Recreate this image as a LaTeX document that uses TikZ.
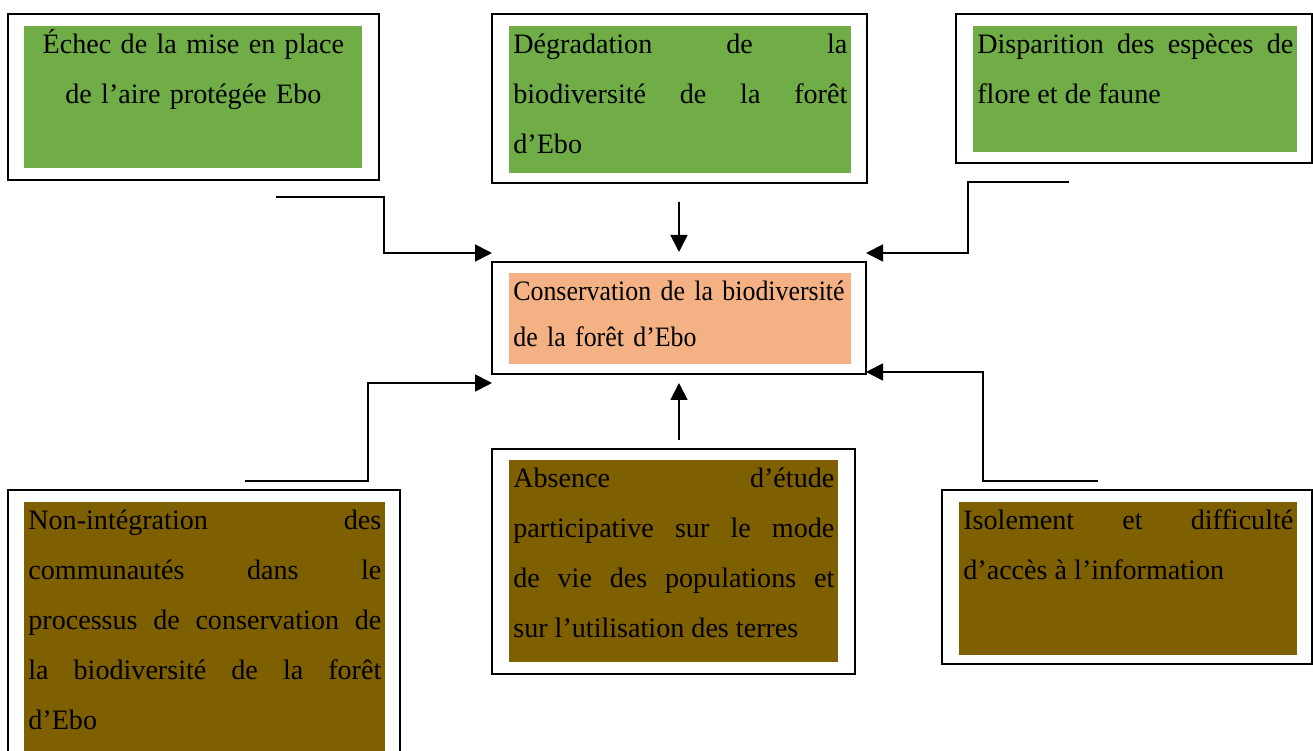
\documentclass[tikz,border=0pt]{standalone}
\usepackage{fontspec}
\setmainfont{Liberation Serif}
\newfontfamily\narrowserif[FakeStretch=0.92]{Liberation Serif}
\usetikzlibrary{arrows.meta}
\definecolor{leafgreen}{HTML}{70AD47}
\definecolor{mudbrown}{HTML}{7F6000}
\definecolor{salmon}{HTML}{F4B183}
\newcommand{\firststrut}{\rule{0pt}{0.54cm}}

\begin{document}
\begin{tikzpicture}[
  frame/.style={draw,line width=1.1pt,anchor=north west,inner sep=0pt,outer sep=0pt},
  bg/.style={fill=#1,anchor=north west,inner sep=0pt,outer sep=0pt},
  txt/.style={anchor=north west,inner sep=0pt,align=justify,
    font=\fontsize{16}{28.45}\selectfont,execute at begin node=\firststrut},
  flow/.style={line width=1pt,-{Triangle[length=0.34cm,width=0.34cm]}}]
  \useasboundingbox (0,0) rectangle (26.26,-15.02);

  \node (echecframe) at (0.16,-0.28) [frame,minimum width=7.42cm,minimum height=3.32cm] {};
  \node (echecbg) at (0.48,-0.52) [bg=leafgreen,minimum width=6.76cm,minimum height=2.84cm] {};
  \node (echec) at (0.56,-0.52) [txt,text width=6.60cm,align=center] {Échec de la mise en place\\de l’aire protégée Ebo};

  \node (degradframe) at (9.84,-0.28) [frame,minimum width=7.50cm,minimum height=3.38cm] {};
  \node (degradbg) at (10.18,-0.52) [bg=leafgreen,minimum width=6.84cm,minimum height=2.94cm] {};
  \node (degrad) at (10.26,-0.52) [txt,text width=6.68cm] {Dégradation de la\linebreak biodiversité de la forêt\linebreak d’Ebo};

  \node (dispframe) at (19.12,-0.28) [frame,minimum width=7.12cm,minimum height=2.98cm] {};
  \node (dispbg) at (19.46,-0.52) [bg=leafgreen,minimum width=6.48cm,minimum height=2.52cm] {};
  \node (disp) at (19.54,-0.52) [txt,text width=6.32cm] {Disparition des espèces de\linebreak flore et de faune};

  \node (conserv) at (9.84,-5.24) [frame,minimum width=7.48cm,minimum height=2.24cm] {};
  \node (conservbg) at (10.18,-5.46) [bg=salmon,minimum width=6.84cm,minimum height=1.82cm] {};
  \node (conservtxt) at (10.26,-5.46) [txt,text width=6.68cm,align=left,
    font=\narrowserif\fontsize{16}{26.2}\selectfont] {Conservation de la biodiversité\\de la forêt d’Ebo};

  \node (nonintframe) at (0.16,-9.80) [frame,minimum width=7.84cm,minimum height=5.80cm] {};
  \node (nonintbg) at (0.48,-10.04) [bg=mudbrown,minimum width=7.22cm,minimum height=5.60cm] {};
  \node (nonint) at (0.56,-10.04) [txt,text width=7.06cm] {Non-intégration des\linebreak communautés dans le\linebreak processus de conservation de\linebreak la biodiversité de la forêt\linebreak d’Ebo};

  \node (absenceframe) at (9.84,-8.98) [frame,minimum width=7.26cm,minimum height=4.50cm] {};
  \node (absencebg) at (10.18,-9.20) [bg=mudbrown,minimum width=6.58cm,minimum height=4.04cm] {};
  \node (absence) at (10.26,-9.20) [txt,text width=6.42cm] {Absence d’étude\linebreak participative sur le mode\linebreak de vie des populations et\linebreak sur l’utilisation des terres};

  \node (isolframe) at (18.84,-9.80) [frame,minimum width=7.40cm,minimum height=3.48cm] {};
  \node (isolbg) at (19.18,-10.04) [bg=mudbrown,minimum width=6.76cm,minimum height=3.06cm] {};
  \node (isol) at (19.26,-10.04) [txt,text width=6.60cm] {Isolement et difficulté\linebreak d’accès à l’information};

  \coordinate (a1) at (5.52,-3.94);
  \coordinate (k1) at (7.68,-5.06);
  \coordinate (a2) at (13.58,-4.04);
  \coordinate (e2) at ([yshift=0.2cm]conserv.north);
  \coordinate (a3) at (21.38,-3.64);
  \coordinate (k3) at (19.36,-5.06);
  \coordinate (a4) at (4.90,-9.62);
  \coordinate (k4) at (7.36,-7.66);
  \coordinate (a5) at (13.58,-8.80);
  \coordinate (e5) at ([yshift=-0.18cm]conserv.south);
  \coordinate (a6) at (21.96,-9.62);
  \coordinate (k6) at (19.66,-7.44);

  \draw[flow] (a1) -| (k1) -- (conserv.west |- k1);
  \draw[flow] (a2) -- (e2);
  \draw[flow] (a3) -| (k3) -- (conserv.east |- k3);
  \draw[flow] (a4) -| (k4) -- (conserv.west |- k4);
  \draw[flow] (a5) -- (e5);
  \draw[flow] (a6) -| (k6) -- (conserv.east |- k6);
\end{tikzpicture}
\end{document}
